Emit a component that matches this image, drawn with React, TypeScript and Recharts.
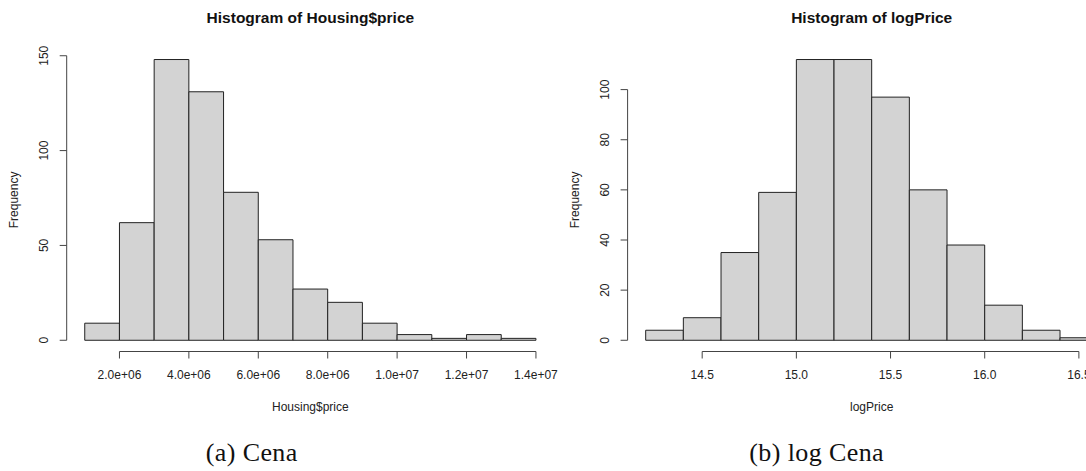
import React from "react";
import { BarChart, Bar, XAxis, YAxis, ReferenceLine } from "recharts";

// Histogram of Housing$price: bin edges and counts
const priceBreaks = [1e6, 2e6, 3e6, 4e6, 5e6, 6e6, 7e6, 8e6, 9e6, 10e6, 11e6, 12e6, 13e6, 14e6];
const priceCounts = [9, 62, 148, 131, 78, 53, 27, 20, 9, 3, 1, 3, 1];
const priceTicks = [2e6, 4e6, 6e6, 8e6, 10e6, 12e6, 14e6];
const priceFreqTicks = [0, 50, 100, 150];

// Histogram of logPrice
const logBreaks = [14.2, 14.4, 14.6, 14.8, 15.0, 15.2, 15.4, 15.6, 15.8, 16.0, 16.2, 16.4, 16.6];
const logCounts = [4, 9, 35, 59, 112, 112, 97, 60, 38, 14, 4, 1];
const logTicks = [14.5, 15.0, 15.5, 16.0, 16.5];
const logFreqTicks = [0, 20, 40, 60, 80, 100];

const SANS = "'Liberation Sans', Arial, sans-serif";
const SERIF = "'Liberation Serif', 'Times New Roman', serif";
const INK = "#222";
const AXIS = "#444";

const H = 471;
const Y_AXIS_W = 60;
const X_AXIS_H = 111;

// R style scientific labels, e.g. 2.0e+06
const sci = (v: number) => {
	const [m, e] = v.toExponential(1).split("e");
	const sign = e[0] === "-" ? "-" : "+";
	const digits = e.replace(/[+-]/, "").padStart(2, "0");
	return `${m}e${sign}${digits}`;
};
const oneDec = (v: number) => v.toFixed(1);

const RotatedTick = (props: any) => {
	const { x, y, payload } = props;
	return (
		<text
			x={x}
			y={y}
			transform={`rotate(-90 ${x} ${y})`}
			textAnchor="middle"
			dominantBaseline="central"
			fontSize={12}
			fill={INK}
		>
			{payload.value}
		</text>
	);
};

function Histogram({
	breaks,
	counts,
	xTicks,
	yTicks,
	xLabel,
	fmt,
	left,
	width,
	margin,
}: {
	breaks: number[];
	counts: number[];
	xTicks: number[];
	yTicks: number[];
	xLabel: string;
	fmt: (v: number) => string;
	left: number;
	width: number;
	margin: { top: number; right: number; bottom: number; left: number };
}) {
	const data = counts.map((c, i) => ({
		mid: (breaks[i] + breaks[i + 1]) / 2,
		count: c,
	}));
	const lo = breaks[0];
	const hi = breaks[breaks.length - 1];
	// R pads the plot region by 4% on each side
	const xDomain = [lo - 0.04 * (hi - lo), hi + 0.04 * (hi - lo)];
	const maxC = Math.max(...counts);
	const yDomain = [-0.04 * maxC, maxC * 1.04];
	const plotW = width - margin.left - margin.right - Y_AXIS_W;
	// a hair under the band width, otherwise recharts shrinks bars to 90%
	const barSize = (plotW * (breaks[1] - breaks[0])) / (xDomain[1] - xDomain[0]) - 0.02;

	return (
		<div style={{ position: "absolute", left, top: 0 }}>
			<BarChart width={width} height={H} data={data} margin={margin} barCategoryGap={0} barGap={0}>
				<XAxis
					dataKey="mid"
					type="number"
					domain={xDomain}
					allowDataOverflow
					ticks={xTicks}
					tickFormatter={fmt}
					axisLine={false}
					tickLine={{ stroke: AXIS }}
					tickSize={7}
					tickMargin={12}
					tick={{ fill: INK, fontSize: 12 }}
					height={X_AXIS_H}
					interval={0}
					label={{ value: xLabel, position: "center", style: { fill: INK, fontSize: 12 } }}
				/>
				<YAxis
					type="number"
					domain={yDomain}
					allowDataOverflow
					ticks={yTicks}
					axisLine={false}
					tickLine={{ stroke: AXIS }}
					tickSize={7}
					tickMargin={15.4}
					tick={<RotatedTick />}
					width={Y_AXIS_W}
					interval={0}
					label={{
						value: "Frequency",
						angle: -90,
						position: "insideLeft",
						offset: 7.3,
						style: { textAnchor: "middle", fill: INK, fontSize: 12 },
					}}
				/>
				<ReferenceLine
					segment={[
						{ x: xTicks[0], y: yDomain[0] },
						{ x: xTicks[xTicks.length - 1], y: yDomain[0] },
					]}
					stroke={AXIS}
					ifOverflow="visible"
				/>
				<ReferenceLine
					segment={[
						{ x: xDomain[0], y: yTicks[0] },
						{ x: xDomain[0], y: yTicks[yTicks.length - 1] },
					]}
					stroke={AXIS}
					ifOverflow="visible"
				/>
				<Bar
					dataKey="count"
					fill="#D3D3D3"
					stroke={INK}
					strokeWidth={1}
					barSize={barSize}
					isAnimationActive={false}
				/>
			</BarChart>
		</div>
	);
}

const titleStyle = (cx: number): React.CSSProperties => ({
	position: "absolute",
	left: cx - 200,
	width: 400,
	top: 10.4,
	textAlign: "center",
	fontFamily: SANS,
	fontWeight: "bold",
	fontSize: 15.5,
	lineHeight: "15.5px",
	color: "#111",
});

const captionStyle = (cx: number): React.CSSProperties => ({
	position: "absolute",
	left: cx - 150,
	width: 300,
	top: 440,
	textAlign: "center",
	fontFamily: SERIF,
	fontSize: 26,
	lineHeight: "26px",
	letterSpacing: 0.4,
	color: "#111",
});

export default function App() {
	return (
		<div
			style={{
				position: "absolute",
				left: 0,
				top: 0,
				width: 1086,
				height: H,
				overflow: "hidden",
				background: "#fff",
				fontFamily: SANS,
			}}
		>
			<Histogram
				breaks={priceBreaks}
				counts={priceCounts}
				xTicks={priceTicks}
				yTicks={priceFreqTicks}
				xLabel="Housing$price"
				fmt={sci}
				left={0}
				width={560}
				margin={{ top: 48.3, right: 6, bottom: H - 351.5 - X_AXIS_H, left: 6.7 }}
			/>
			<Histogram
				breaks={logBreaks}
				counts={logCounts}
				xTicks={logTicks}
				yTicks={logFreqTicks}
				xLabel="logPrice"
				fmt={oneDec}
				left={560}
				width={562}
				margin={{ top: 48.3, right: 6.2, bottom: H - 351.5 - X_AXIS_H, left: 7.6 }}
			/>
			<div style={titleStyle(310.4)}>Histogram of Housing$price</div>
			<div style={titleStyle(871.7)}>Histogram of logPrice</div>
			<div style={captionStyle(251.7)}>(a) Cena</div>
			<div style={captionStyle(816.7)}>(b) log Cena</div>
		</div>
	);
}
